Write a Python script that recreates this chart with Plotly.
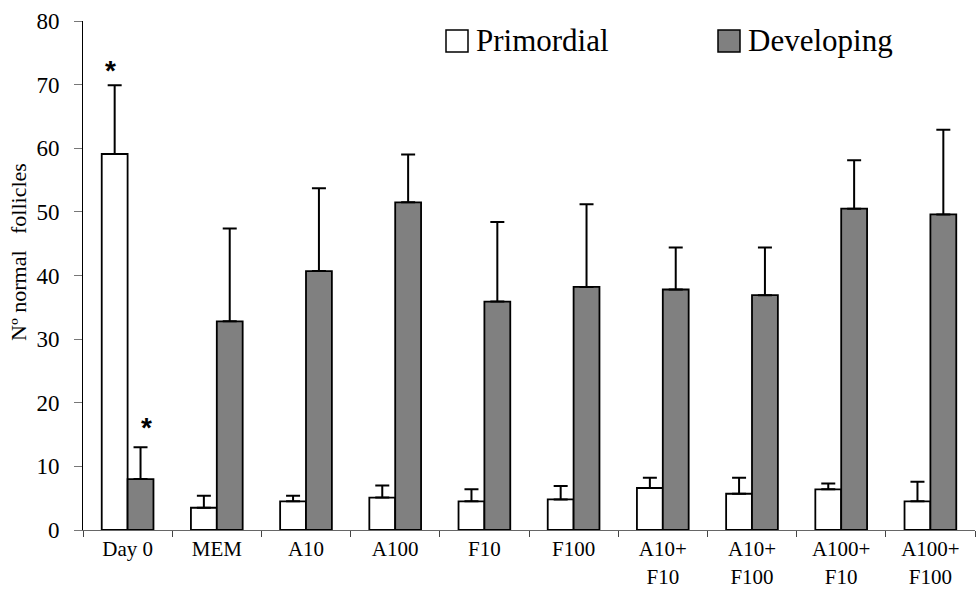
import plotly.graph_objects as go

categories = ["Day 0", "MEM", "A10", "A100", "F10", "F100",
              "A10+<br>F10", "A10+<br>F100", "A100+<br>F10", "A100+<br>F100"]
primordial = [59.1, 3.5, 4.5, 5.1, 4.5, 4.8, 6.6, 5.7, 6.4, 4.5]
primordial_err = [10.8, 1.9, 0.9, 1.9, 1.9, 2.1, 1.6, 2.5, 0.9, 3.1]
developing = [8.0, 32.8, 40.7, 51.5, 35.9, 38.2, 37.8, 36.9, 50.5, 49.6]
developing_err = [5.0, 14.6, 13.0, 7.5, 12.5, 13.0, 6.6, 7.5, 7.6, 13.3]
zeros = [0] * len(categories)

SERIF = "Liberation Serif, Times New Roman, serif"

fig = go.Figure()
fig.add_trace(go.Bar(
    name="Primordial", x=categories, y=primordial,
    marker=dict(color="white", line=dict(color="black", width=1.8)),
    error_y=dict(type="data", array=primordial_err, arrayminus=zeros, symmetric=False,
                 color="black", thickness=2, width=7),
    showlegend=False,
))
fig.add_trace(go.Bar(
    name="Developing", x=categories, y=developing,
    marker=dict(color="#808080", line=dict(color="black", width=1.8)),
    error_y=dict(type="data", array=developing_err, arrayminus=zeros, symmetric=False,
                 color="black", thickness=2, width=7),
    showlegend=False,
))

# significance stars
fig.add_annotation(x=categories[0], y=primordial[0] + primordial_err[0], xref="x", yref="y",
                   text="<b>*</b>", showarrow=False, xshift=-17, yshift=15,
                   font=dict(family="Liberation Sans, Arial", size=28, color="black"))
fig.add_annotation(x=categories[0], y=developing[0] + developing_err[0], xref="x", yref="y",
                   text="<b>*</b>", showarrow=False, xshift=19, yshift=20,
                   font=dict(family="Liberation Sans, Arial", size=28, color="black"))

W, H = 976, 601
ml, mr, mt, mb = 83, 1, 21, 71
pw, ph = W - ml - mr, H - mt - mb

# legend (drawn as boxes + text)
legend_items = [("Primordial", "white", 446), ("Developing", "#808080", 718)]
for label, col, px in legend_items:
    x0 = (px - ml) / pw
    x1 = (px + 22 - ml) / pw
    y0 = 1 - (41 + 11 - mt) / ph
    y1 = 1 - (41 - 11 - mt) / ph
    fig.add_shape(type="rect", xref="paper", yref="paper", x0=x0, x1=x1, y0=y0, y1=y1,
                  fillcolor=col, line=dict(color="black", width=1.5))
    fig.add_annotation(xref="paper", yref="paper", x=(px + 28 - ml) / pw, y=1 - (41 - mt) / ph,
                       text=label, showarrow=False, xanchor="left", yanchor="middle",
                       font=dict(family=SERIF, size=31, color="black"))

# y axis title
fig.add_annotation(xref="paper", yref="paper", x=(18 - ml) / pw, y=1 - (252 - mt) / ph,
                   text="N\u00ba normal\u00a0\u00a0 follicles", textangle=-90,
                   showarrow=False, xanchor="center", yanchor="middle",
                   font=dict(family=SERIF, size=22, color="black"))

fig.update_layout(
    width=W, height=H,
    margin=dict(l=ml, r=mr, t=mt, b=mb),
    paper_bgcolor="white", plot_bgcolor="white",
    barmode="group", bargap=0.42, bargroupgap=0,
    font=dict(family=SERIF, color="black"),
)
fig.update_xaxes(
    type="category", tickson="boundaries", ticks="outside", ticklen=6, tickcolor="#444",
    showline=True, linecolor="#666", linewidth=1, showgrid=False,
    tickfont=dict(family=SERIF, size=21, color="black"),
)
fig.update_yaxes(
    range=[0, 80], dtick=10, ticks="outside", ticklen=8, tickcolor="#777",
    showline=True, linecolor="black", linewidth=1, showgrid=False, zeroline=False,
    ticklabelstandoff=10,
    tickfont=dict(family=SERIF, size=23, color="black"),
)

fig.write_html("out.html", config={"displayModeBar": False},
               post_script="document.body.style.margin='0';")
